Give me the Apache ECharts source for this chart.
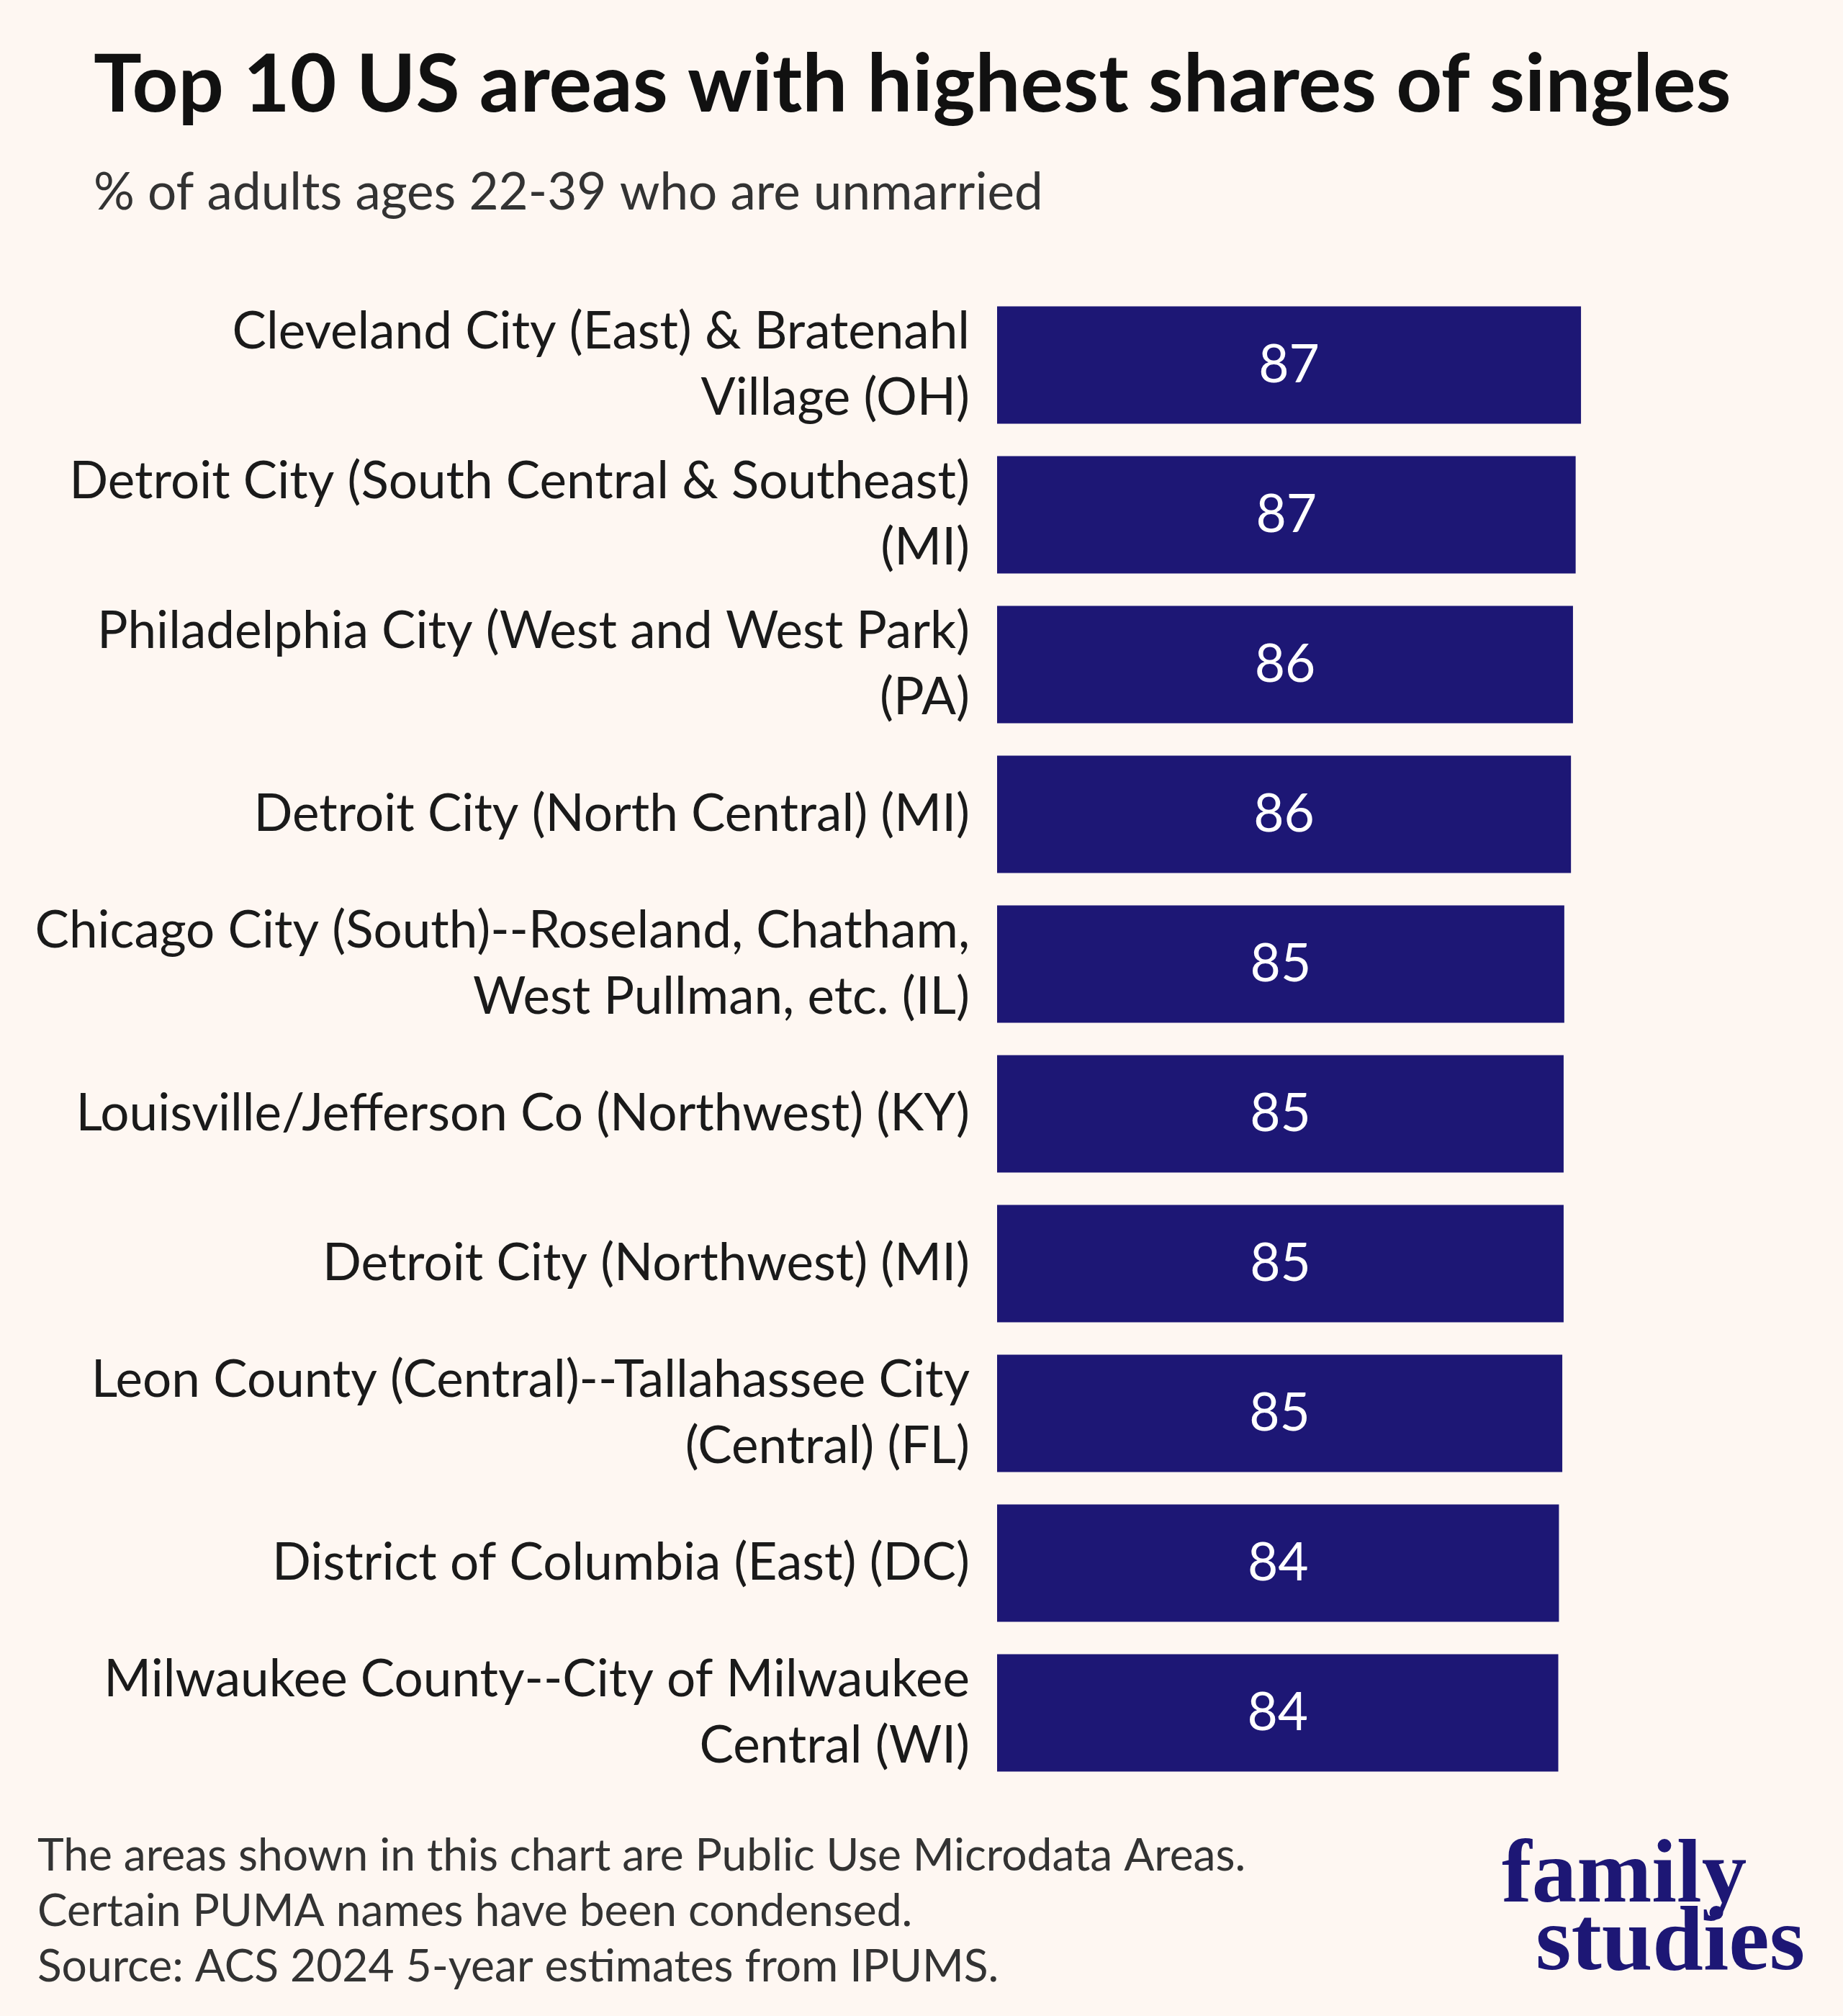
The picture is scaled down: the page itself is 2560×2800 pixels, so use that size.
<!DOCTYPE html>
<html>
<head>
<meta charset="utf-8">
<script src="https://cdn.jsdelivr.net/npm/echarts@6/dist/echarts.min.js"></script>
<style>
  html, body { margin: 0; padding: 0; background: #fef7f2; }
  #chart { width: 2560px; height: 2800px; }
</style>
</head>
<body>
<div id="chart"></div>
<script>
const categories = [
  'Cleveland City (East) & Bratenahl\nVillage (OH)',
  'Detroit City (South Central & Southeast)\n(MI)',
  'Philadelphia City (West and West Park)\n(PA)',
  'Detroit City (North Central) (MI)',
  'Chicago City (South)--Roseland, Chatham,\nWest Pullman, etc. (IL)',
  'Louisville/Jefferson Co (Northwest) (KY)',
  'Detroit City (Northwest) (MI)',
  'Leon County (Central)--Tallahassee City\n(Central) (FL)',
  'District of Columbia (East) (DC)',
  'Milwaukee County--City of Milwaukee\nCentral (WI)'
];
const values = [87.4, 86.6, 86.2, 85.9, 84.9, 84.8, 84.8, 84.6, 84.1, 84.0];

const titleText = 'Top 10 US areas with highest shares of singles';
const subtitleText = '% of adults ages 22-39 who are unmarried';
const footnoteLines = [
  'The areas shown in this chart are Public Use Microdata Areas.',
  'Certain PUMA names have been condensed.',
  'Source: ACS 2024 5-year estimates from IPUMS.'
];
const logoLines = ['family', 'studies'];

const NAVY = '#1d1775';
const chart = echarts.init(document.getElementById('chart'));

const graphics = [
  { type: 'text', x: 130, y: 119, style: { text: titleText, font: 'bold 111.6px Lato', fill: '#111111', verticalAlign: 'middle' } },
  { type: 'text', x: 130, y: 268, style: { text: subtitleText, font: '71px Lato', fill: '#333333', verticalAlign: 'middle' } }
];
footnoteLines.forEach((t, i) => {
  graphics.push({ type: 'text', x: 52, y: 2578 + i * 77, style: { text: t, font: '62.3px Lato', fill: '#333333', verticalAlign: 'middle' } });
});
graphics.push({ type: 'text', x: 2086, y: 2609, style: { text: logoLines[0], font: 'bold 125px "Liberation Serif"', fill: NAVY, verticalAlign: 'middle' } });
graphics.push({ type: 'text', x: 2133, y: 2702, style: { text: logoLines[1], font: 'bold 127px "Liberation Serif"', fill: NAVY, verticalAlign: 'middle' } });

chart.setOption({
  backgroundColor: '#fef7f2',
  animation: false,
  graphic: graphics,
  grid: { left: 1385, top: 403, width: 928, height: 2080, containLabel: false },
  xAxis: {
    type: 'value', min: 0, max: 100, show: false
  },
  yAxis: {
    type: 'category',
    data: categories,
    inverse: true,
    axisLine: { show: false },
    axisTick: { show: false },
    axisLabel: {
      fontFamily: 'Lato', fontSize: 71, lineHeight: 92, color: '#1a1a1a',
      margin: 38, align: 'right'
    }
  },
  series: [{
    type: 'bar',
    data: values,
    barCategoryGap: '21.6%',
    itemStyle: { color: NAVY },
    label: {
      show: true, position: 'inside', color: '#ffffff',
      fontFamily: 'Lato', fontSize: 73,
      formatter: p => Math.round(p.value)
    }
  }]
});
</script>
</body>
</html>
